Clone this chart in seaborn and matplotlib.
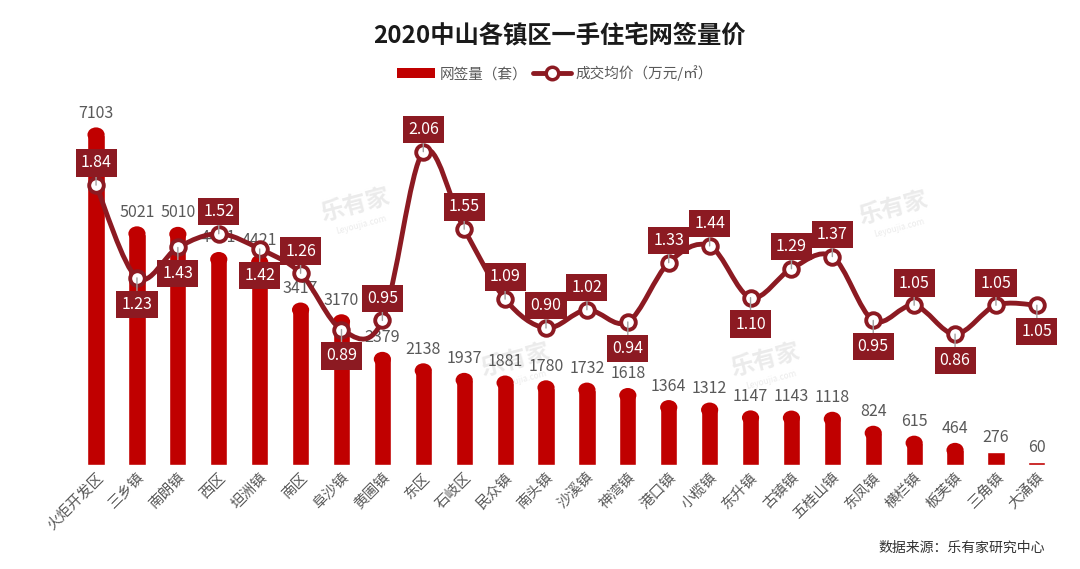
import numpy as np
import pandas as pd
import seaborn as sns
import matplotlib.pyplot as plt
from matplotlib.patches import Ellipse, Patch, PathPatch
from matplotlib.lines import Line2D
from matplotlib.path import Path

sns.set_style('white')
plt.rcParams['font.family'] = ['Noto Sans CJK SC', 'DejaVu Sans']

# ============================================================
# 数据
# ============================================================
towns = ['火炬开发区', '三乡镇', '南朗镇', '西区', '坦洲镇', '南区', '阜沙镇', '黄圃镇',
         '东区', '石岐区', '民众镇', '南头镇', '沙溪镇', '神湾镇', '港口镇', '小榄镇',
         '东升镇', '古镇镇', '五桂山镇', '东凤镇', '横栏镇', '板芙镇', '三角镇', '大涌镇']
volume = [7103, 5021, 5010, 4481, 4421, 3417, 3170, 2379, 2138, 1937, 1881, 1780,
          1732, 1618, 1364, 1312, 1147, 1143, 1118, 824, 615, 464, 276, 60]
price = [1.84, 1.23, 1.43, 1.52, 1.42, 1.26, 0.89, 0.95, 2.06, 1.55, 1.09, 0.90,
         1.02, 0.94, 1.33, 1.44, 1.10, 1.29, 1.37, 0.95, 1.05, 0.86, 1.05, 1.05]
# 标签在点的上方(1)或下方(-1)
label_side = [1, -1, -1, 1, -1, 1, -1, 1, 1, 1, 1, 1,
              1, -1, 1, 1, -1, 1, 1, -1, 1, -1, 1, -1]

title = '2020中山各镇区一手住宅网签量价'
source = '数据来源：乐有家研究中心'

bar_color = '#C00000'
line_color = '#8C1A22'
text_gray = '#595959'

df = pd.DataFrame({'镇区': towns, '网签量': volume, '均价': price})
df['pos'] = np.arange(len(df))

# ============================================================
# 画图
# ============================================================
fig = plt.figure(figsize=(10.8, 5.69), dpi=100)
ax = fig.add_axes([0.07, 0.183, 0.909, 0.668])
ax.patch.set_visible(False)

sns.barplot(data=df, x='镇区', y='网签量', color=bar_color, width=0.42,
            saturation=1, ax=ax, zorder=2)
ax.set_ylim(0, 8000)
ax.set_xlim(-0.5, len(df) - 0.5)

# 圆头柱子
bw = 0.42
px_x = ax.transData.transform((1, 0))[0] - ax.transData.transform((0, 0))[0]
px_y = ax.transData.transform((0, 1000))[1] - ax.transData.transform((0, 0))[1]
r_px = bw * px_x / 2 * 0.85
r_data = r_px / px_y * 1000
for p in ax.patches:
    h = p.get_height()
    if h > 2 * r_data:
        p.set_height(h - r_data)
        cx = p.get_x() + p.get_width() / 2
        ax.add_patch(Ellipse((cx, h - r_data), p.get_width(), 2 * r_data,
                             color=bar_color, lw=0, zorder=2))

for i, v in enumerate(volume):
    ax.annotate(str(v), (i, v), xytext=(0, 4), textcoords='offset points',
                ha='center', va='bottom', fontsize=11.5, color=text_gray, zorder=3)

ax.set_xlabel('')
ax.set_ylabel('')
ax.set_yticks([])
ax.tick_params(axis='x', length=0, pad=4)
for lab in ax.get_xticklabels():
    lab.set_rotation(45)
    lab.set_ha('right')
    lab.set_rotation_mode('anchor')
    lab.set_fontsize(10.5)
    lab.set_color(text_gray)
for s in ax.spines.values():
    s.set_visible(False)

# 均价曲线（次坐标轴）
ax2 = ax.twinx()
ax2.set_ylim(0, 2.5)
pts = np.column_stack([df['pos'].values, df['均价'].values])
verts = [tuple(pts[0])]
codes = [Path.MOVETO]
n = len(pts)
for i in range(n - 1):
    p0 = pts[max(i - 1, 0)]
    p1 = pts[i]
    p2 = pts[i + 1]
    p3 = pts[min(i + 2, n - 1)]
    c1 = p1 + (p2 - p0) / 6
    c2 = p2 - (p3 - p1) / 6
    verts += [tuple(c1), tuple(c2), tuple(p2)]
    codes += [Path.CURVE4, Path.CURVE4, Path.CURVE4]
ax2.add_patch(PathPatch(Path(verts, codes), fill=False, edgecolor=line_color,
                        lw=3.5, capstyle='round', joinstyle='round', zorder=4))
sns.scatterplot(data=df, x='pos', y='均价', ax=ax2, s=110, color='white',
                edgecolor=line_color, linewidth=2.8, zorder=5, legend=False)

for i, (v, side) in enumerate(zip(price, label_side)):
    dy = 16 if side > 0 else -19
    ax2.annotate(f'{v:.2f}', (i, v), xytext=(0, dy), textcoords='offset points',
                 ha='center', va='center', fontsize=11.5, color='white', zorder=6,
                 bbox=dict(boxstyle='square,pad=0.32', fc=line_color, ec='none'),
                 arrowprops=dict(arrowstyle='-', color='#A0A0A0', lw=1,
                                 shrinkA=0, shrinkB=0))

ax2.set_yticks([])
ax2.set_ylabel('')
ax2.set_xlabel('')
for s in ax2.spines.values():
    s.set_visible(False)

# 水印
for (wx, wy) in [(355, 205), (515, 360), (765, 360), (893, 208)]:
    fig.text(wx / 1080, 1 - wy / 569, '乐有家', fontsize=17, color='#ebebeb',
             rotation=15, ha='center', va='center', zorder=-1, fontweight='bold')
    fig.text((wx + 6) / 1080, 1 - (wy + 20) / 569, 'Leyoujia.com', fontsize=6,
             color='#ebebeb', rotation=15, ha='center', va='center', zorder=-1)

# 标题、图例、来源
fig.text(0.518, 0.938, title, fontsize=17.5, fontweight='bold', ha='center',
         va='center', color='#1a1a1a')

handles = [Patch(facecolor=bar_color, edgecolor='none'),
           Line2D([0], [0], color=line_color, lw=3.5, marker='o', markersize=9,
                  markerfacecolor='white', markeredgecolor=line_color,
                  markeredgewidth=2.5)]
fig.legend(handles, ['网签量（套）', '成交均价（万元/㎡）'], loc='center',
           bbox_to_anchor=(0.514, 0.871), ncol=2, frameon=False, fontsize=10.5,
           handlelength=2.6, handletextpad=0.3, columnspacing=0.4,
           labelcolor=text_gray)

fig.text(0.968, 0.038, source, fontsize=10, ha='right', va='center', color='#333333')

plt.savefig('out.png', dpi=100)
